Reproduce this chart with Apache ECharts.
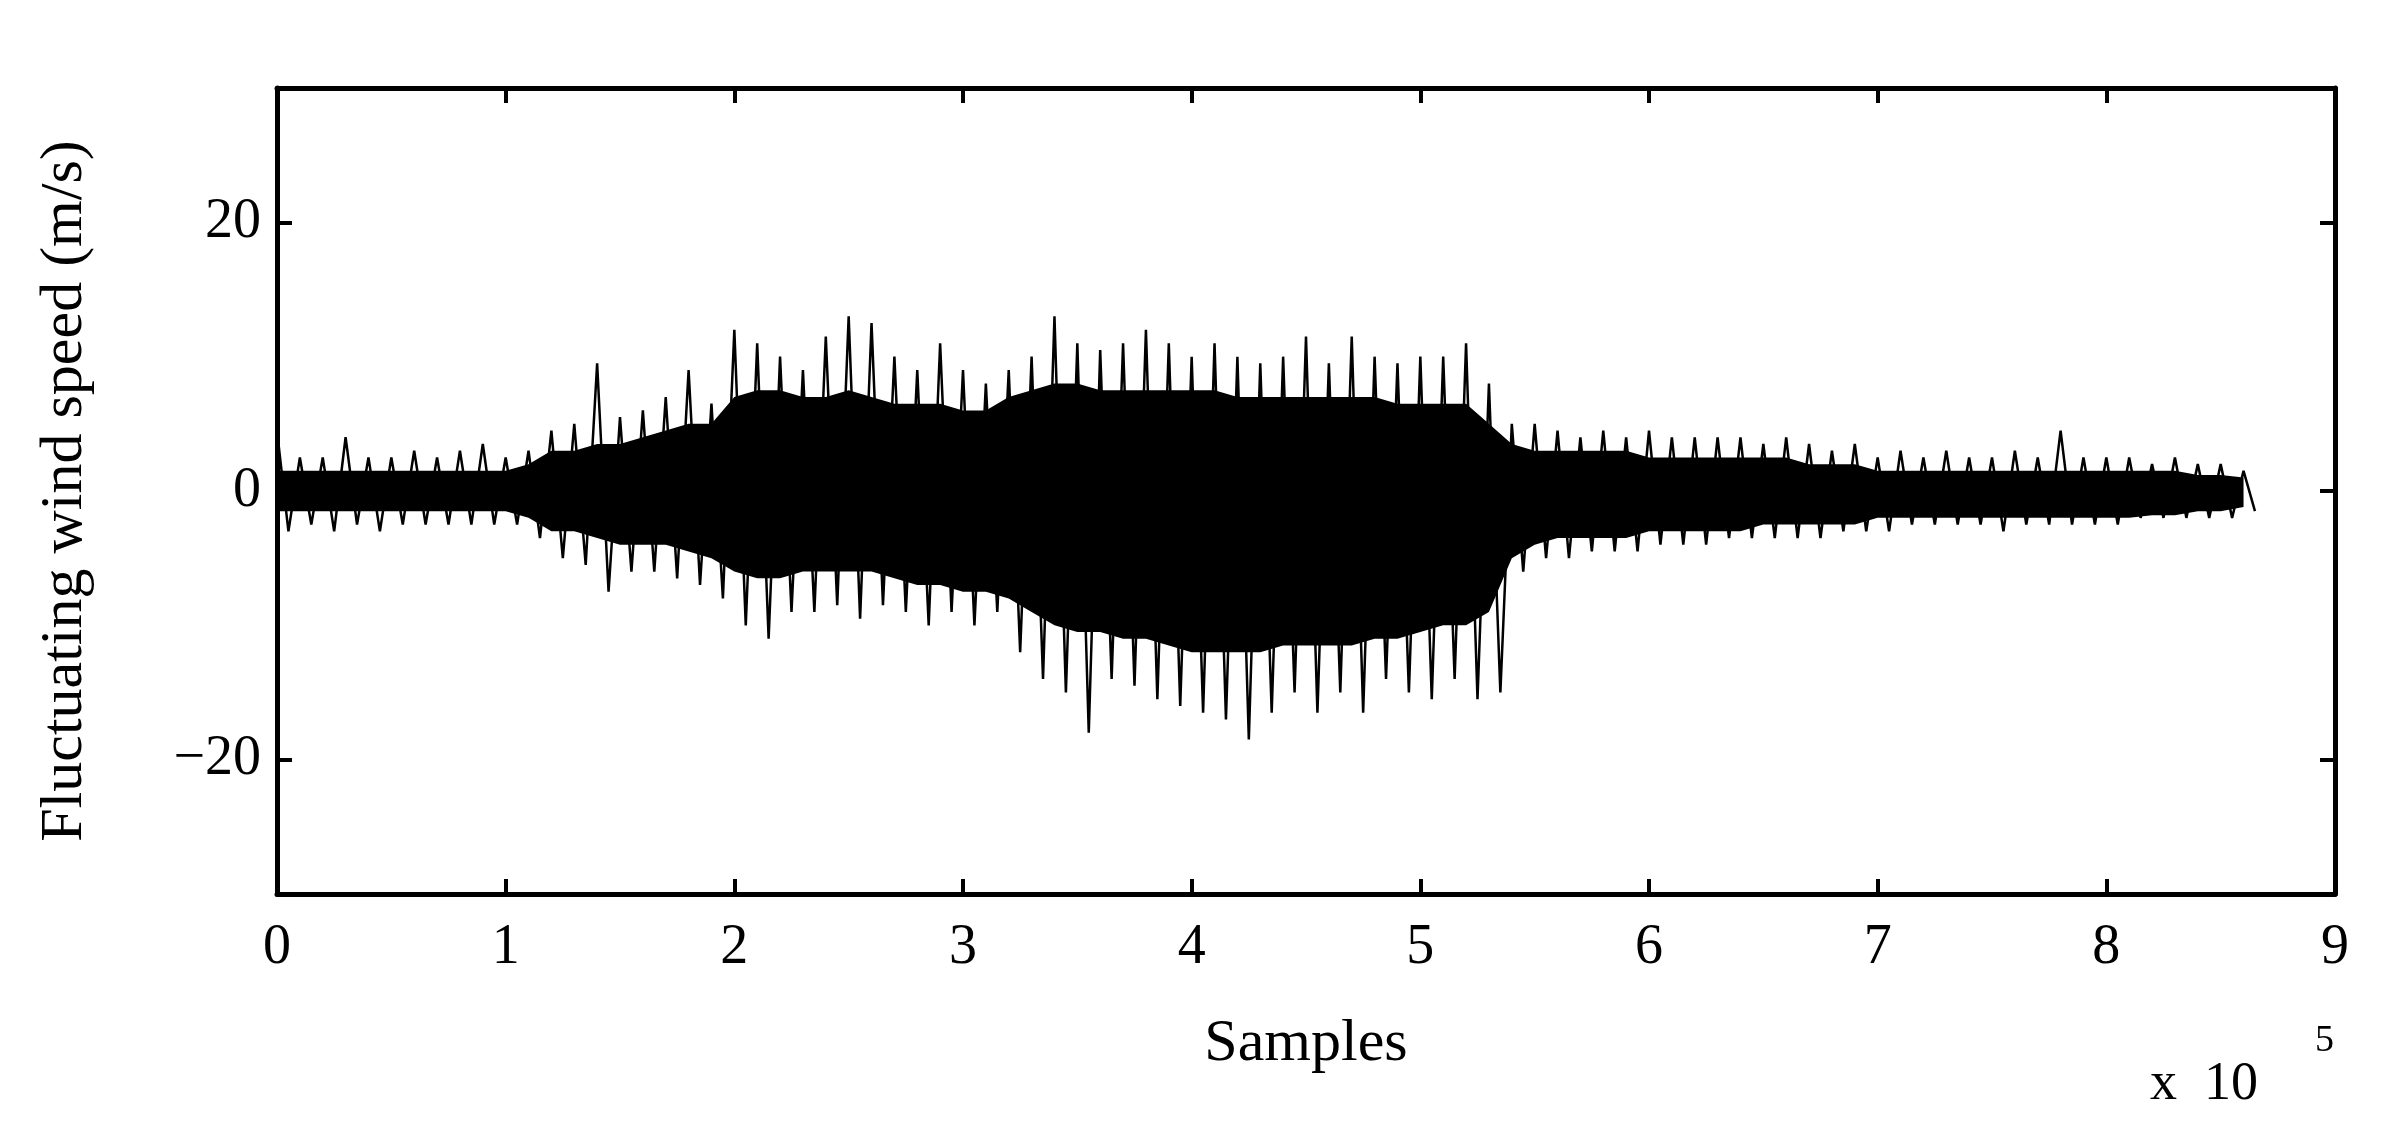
<!DOCTYPE html>
<html><head><meta charset="utf-8">
<script src="https://cdn.jsdelivr.net/npm/echarts@6/dist/echarts.min.js"></script>
<style>html,body{margin:0;background:#fff}#c{width:2388px;height:1136px}</style>
</head><body><div id="c"></div>
<script>
const step = 10000;
const upperSpike = [4.5,2.5,2.5,4,2.5,2.5,3,2.5,3,3.5, 2.5,3,4.5,5,9.5,5.5,6,7,9,6.5, 12,11,10,9,11.5,13,12.5,10,9,11, 9,8,9,10,13,11,10.5,11,12,11, 10,11,10,9.5,10,11.5,9.5,11.5,10,9.5, 10,10,11,8,5,5,4.5,4,4.5,4, 4.5,4,4,4,4,3.5,4,3.5,3,3.5, 2.5,3,2.5,3,2.5,2.5,3,2.5,4.5,2.5, 2.5,2.5,2,2.5,2,2,1.5];
const lowerSpike = [-3,-2.5,-3,-2.5,-3,-2.5,-2.5,-2.5,-2.5,-2.5, -2.5,-3.5,-5,-5.5,-7.5,-6,-6,-6.5,-7,-8, -10,-11,-9,-9,-8.5,-9.5,-8.5,-9,-10,-9, -10,-9,-12,-14,-15,-18,-14,-14.5,-15.5,-16, -16.5,-17,-18.5,-16.5,-15,-16.5,-15,-16.5,-14,-15, -15.5,-14,-15.5,-15,-6,-5,-5,-4.5,-4.5,-4.5, -4,-4,-4,-3.5,-3.5,-3.5,-3.5,-3.5,-3,-3, -3,-2.5,-2.5,-2.5,-2.5,-3,-2.5,-2.5,-2.5,-2.5, -2.5,-2,-2,-2,-2,-2,-1.5];
const upperCore = [1.5,1.5,1.5,1.5,1.5,1.5,1.5,1.5,1.5,1.5, 1.5,2,3,3,3.5,3.5,4,4.5,5,5, 7,7.5,7.5,7,7,7.5,7,6.5,6.5,6.5, 6,6,7,7.5,8,8,7.5,7.5,7.5,7.5, 7.5,7.5,7,7,7,7,7,7,7,6.5, 6.5,6.5,6.5,5,3.5,3,3,3,3,3, 2.5,2.5,2.5,2.5,2.5,2.5,2.5,2,2,2, 1.5,1.5,1.5,1.5,1.5,1.5,1.5,1.5,1.5,1.5, 1.5,1.5,1.5,1.5,1.2,1.2,1];
const lowerCore = [-1.5,-1.5,-1.5,-1.5,-1.5,-1.5,-1.5,-1.5,-1.5,-1.5, -1.5,-2,-3,-3,-3.5,-4,-4,-4,-4.5,-5, -6,-6.5,-6.5,-6,-6,-6,-6,-6.5,-7,-7, -7.5,-7.5,-8,-9,-10,-10.5,-10.5,-11,-11,-11.5, -12,-12,-12,-12,-11.5,-11.5,-11.5,-11.5,-11,-11, -10.5,-10,-10,-9,-5,-4,-3.5,-3.5,-3.5,-3.5, -3,-3,-3,-3,-3,-2.5,-2.5,-2.5,-2.5,-2.5, -2,-2,-2,-2,-2,-2,-2,-2,-2,-2, -2,-2,-1.8,-1.8,-1.5,-1.5,-1.2];
const xTicks = [0,1,2,3,4,5,6,7,8,9];
const yTicks = [-20,0,20];

const zig = [];
upperSpike.forEach((u,i)=>{ zig.push([i*step,u]); zig.push([i*step+step/2,lowerSpike[i]]); });
const up = upperCore.map((v,i)=>[i*step,v]);
const lo = lowerCore.map((v,i)=>[i*step,v]);

const F = 'Liberation Serif';
const axLine = {show:true,onZero:false,lineStyle:{color:'#000',width:5}};
const tick = {show:true,inside:true,length:15,lineStyle:{color:'#000',width:4}};
const chart = echarts.init(document.getElementById('c'));
chart.setOption({
  animation:false,
  grid:{left:277,right:53,top:88,bottom:242},
  xAxis:[
    {type:'value',min:0,max:900000,interval:100000,axisLine:axLine,axisTick:tick,splitLine:{show:false},
     axisLabel:{color:'#000',fontFamily:F,fontSize:56,margin:26,formatter:v=>String(v/100000)},
     name:'Samples',nameLocation:'middle',nameGap:120,nameTextStyle:{color:'#000',fontFamily:F,fontSize:60}},
    {type:'value',position:'top',min:0,max:900000,interval:100000,axisLine:axLine,axisTick:tick,axisLabel:{show:false},splitLine:{show:false}}
  ],
  yAxis:[
    {type:'value',min:-30,max:30,interval:10,axisLine:axLine,splitLine:{show:false},
     axisTick:Object.assign({customValues:yTicks},tick),
     axisLabel:{customValues:yTicks,color:'#000',fontFamily:F,fontSize:56,margin:16,formatter:v=>v<0?'\u2212'+(-v):String(v)},
     name:'Fluctuating wind speed (m/s)',nameLocation:'middle',nameGap:182,nameTextStyle:{color:'#000',fontFamily:F,fontSize:60}},
    {type:'value',position:'right',min:-30,max:30,interval:10,axisLine:axLine,splitLine:{show:false},
     axisTick:Object.assign({customValues:yTicks},tick),axisLabel:{show:false}}
  ],
  graphic:[
    {type:'text',left:2150,top:1058,style:{text:'x  10',fontFamily:F,fontSize:54,fill:'#000'}},
    {type:'text',left:2315,top:1022,style:{text:'5',fontFamily:F,fontSize:38,fill:'#000'}}
  ],
  series:[
    {type:'line',data:up,symbol:'none',lineStyle:{width:0},areaStyle:{color:'#000',opacity:1}},
    {type:'line',data:lo,symbol:'none',lineStyle:{width:0},areaStyle:{color:'#000',opacity:1}},
    {type:'line',data:zig,symbol:'none',lineStyle:{color:'#000',width:2.5}}
  ]
});
</script></body></html>
